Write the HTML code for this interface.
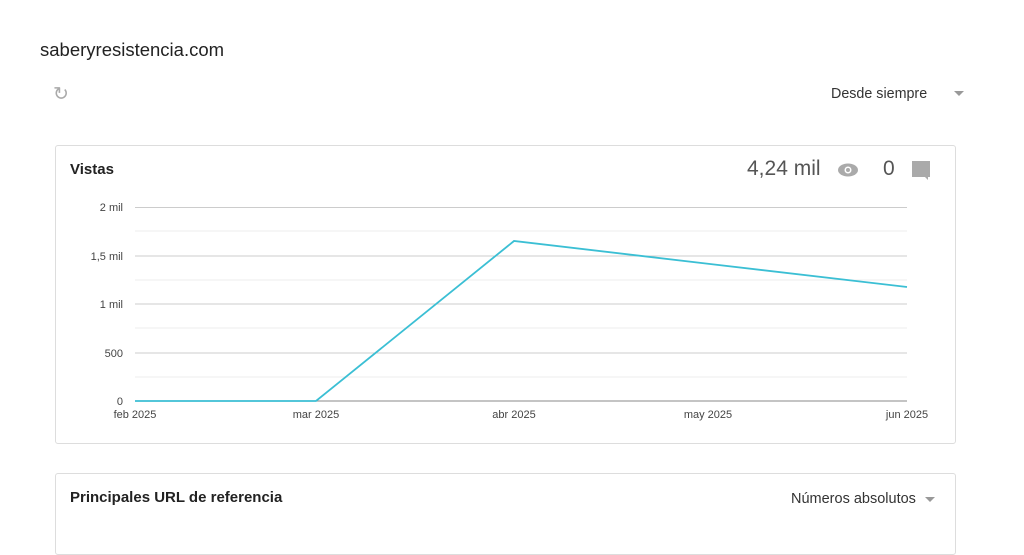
<!DOCTYPE html>
<html><head><meta charset="utf-8"><style>
body{margin:0;width:1024px;height:527px;background:#fff;font-family:"Liberation Sans",sans-serif;overflow:hidden;position:relative}
.t{position:absolute;white-space:nowrap}
.card{position:absolute;border:1px solid #ddd;border-radius:3px;background:#fff}
</style></head><body>
<div class="t" style="left:40px;top:39px;font-size:18.5px;color:#222">saberyresistencia.com</div>
<div class="t" style="left:53px;top:83px;font-size:19px;color:#aaa">↻</div>
<div class="t" style="left:831px;top:86px;font-size:14.3px;color:#333">Desde siempre</div>
<div class="t" style="left:954px;top:91px;width:0;height:0;border-left:5px solid transparent;border-right:5px solid transparent;border-top:5px solid #999"></div>
<div class="card" style="left:55px;top:145px;width:899px;height:297px"></div>
<div class="t" style="left:70px;top:161px;font-size:15px;color:#222;font-weight:bold">Vistas</div>
<div class="t" style="left:747px;top:157px;font-size:21px;color:#555">4,24 mil</div>
<svg style="position:absolute;left:836px;top:160px" width="24" height="20"><ellipse cx="12" cy="10" rx="10" ry="6.5" fill="#aaa"/><circle cx="12" cy="10" r="3.5" fill="#fff"/><circle cx="12" cy="10" r="2" fill="#aaa"/></svg>
<div class="t" style="left:883px;top:157px;font-size:21px;color:#555">0</div>
<svg style="position:absolute;left:911px;top:160px" width="20" height="20"><path d="M1 1H19V17H17V20L14 17H1Z" fill="#aaa"/></svg>
<svg style="position:absolute;left:0;top:0" width="1024" height="527" font-family="Liberation Sans" font-size="11" fill="#444">
<g stroke="#eee"><line x1="135" x2="907" y1="231" y2="231"/><line x1="135" x2="907" y1="280" y2="280"/><line x1="135" x2="907" y1="328" y2="328"/><line x1="135" x2="907" y1="377" y2="377"/></g>
<g stroke="#ccc"><line x1="135" x2="907" y1="207.5" y2="207.5"/><line x1="135" x2="907" y1="256" y2="256"/><line x1="135" x2="907" y1="304" y2="304"/><line x1="135" x2="907" y1="353" y2="353"/><line x1="135" x2="907" y1="401" y2="401" stroke="#888"/></g>
<g text-anchor="end"><text x="123" y="211">2 mil</text><text x="123" y="260">1,5 mil</text><text x="123" y="308">1 mil</text><text x="123" y="357">500</text><text x="123" y="405">0</text></g>
<g text-anchor="middle"><text x="135" y="418">feb 2025</text><text x="316" y="418">mar 2025</text><text x="514" y="418">abr 2025</text><text x="708" y="418">may 2025</text><text x="907" y="418">jun 2025</text></g>
<polyline points="135,401 316,401 514,241 710,264 907,287" fill="none" stroke="#3bbfd4" stroke-width="1.8"/>
</svg>
<div class="card" style="left:55px;top:473px;width:899px;height:80px"></div>
<div class="t" style="left:70px;top:489px;font-size:15px;color:#222;font-weight:bold">Principales URL de referencia</div>
<div class="t" style="left:791px;top:491px;font-size:14.5px;color:#333">Números absolutos</div>
<div class="t" style="left:925px;top:497px;width:0;height:0;border-left:5px solid transparent;border-right:5px solid transparent;border-top:5px solid #999"></div>
</body></html>
